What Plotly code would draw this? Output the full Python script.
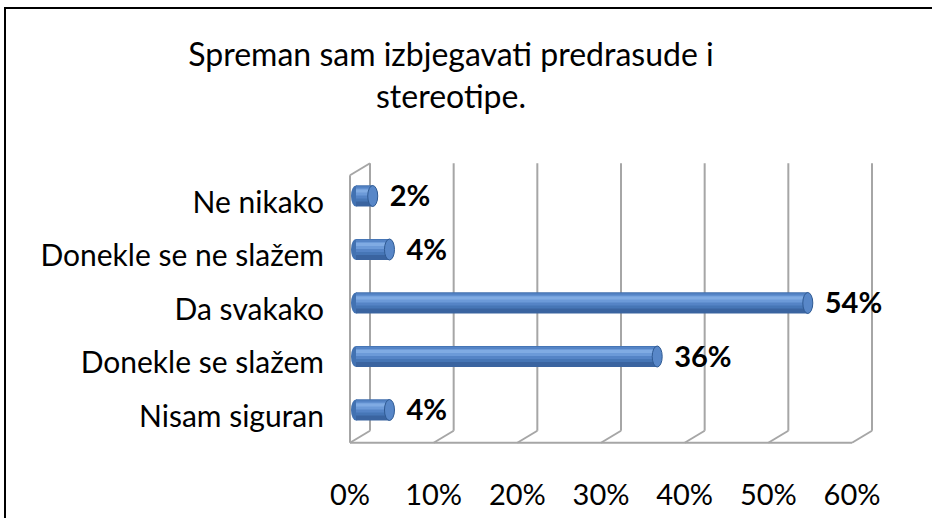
import plotly.graph_objects as go

# ---------------- data ----------------
categories = ["Ne nikako", "Donekle se ne slažem", "Da svakako", "Donekle se slažem", "Nisam siguran"]
values = [2, 4, 54, 36, 4]
x_ticks = [0, 10, 20, 30, 40, 50, 60]
x_tick_labels = ["0%", "10%", "20%", "30%", "40%", "50%", "60%"]
title_text = "Spreman sam izbjegavati predrasude i<br>stereotipe."

# ---------------- layout constants (pixels) ----------------
W, H = 932, 518
PX = (852 - 350) / 60.0      # pixels per percent
PY = 53.5                    # pixels per category
FRONT_X0, FRONT_Y0 = 350, 202   # front plane: 0% and first category
BAR_X0, BAR_Y0 = 356, 196       # bars (mid depth)
DEPTH_DX, DEPTH_DY = 20, -12    # back plane offset
BAR_PX = 21                     # bar thickness px
LABEL_GAP_PX = 12
LABEL_DY_PX = 3
FONT = "Lato"
GRID = "#A6A6A6"

n = len(categories)
idx = list(range(n))

fig = go.Figure()

# ---- cylinder bars built from overlaid layers (gradient) ----
bw = BAR_PX / PY
layers = [  # (offset from top px, thickness px, color)
    (0, 21, "#3A64A0"),
    (0, 16, "#4676B6"),
    (1, 12, "#5584C6"),
    (3, 7, "#6C9AD8"),
    (4, 3, "#80ABE3"),
]
for off, th, col in layers:
    fig.add_trace(go.Bar(
        x=values, y=idx, orientation="h",
        width=th / PY, offset=-bw / 2 + off / PY,
        marker=dict(color=col, line=dict(width=0)),
        hoverinfo="skip", showlegend=False, xaxis="x", yaxis="y"))

# value labels
cap = 5 / PX
fig.add_trace(go.Scatter(
    x=[v + cap + LABEL_GAP_PX / PX for v in values],
    y=[i + LABEL_DY_PX / PY for i in idx], mode="text",
    text=[f"{v}%" for v in values], textposition="middle right",
    textfont=dict(family=FONT, size=29, color="#000000", weight="bold"),
    hoverinfo="skip", showlegend=False, cliponaxis=False, xaxis="x", yaxis="y"))

# helper (invisible) trace for the front-plane label axes
fig.add_trace(go.Scatter(x=[x_ticks[0]], y=[idx[0]], mode="markers",
                         marker=dict(opacity=0), hoverinfo="skip",
                         showlegend=False, xaxis="x2", yaxis="y2"))

shapes = []
# end caps of the cylinders
for i, v in zip(idx, values):
    shapes.append(dict(type="circle", xref="x", yref="y",
                       x0=v - cap, x1=v + cap, y0=i - bw / 2, y1=i + bw / 2,
                       fillcolor="#5887C8", line=dict(color="#2F5A93", width=1),
                       layer="above"))
    shapes.append(dict(type="circle", xref="x", yref="y",
                       x0=-cap, x1=cap, y0=i - bw / 2, y1=i + bw / 2,
                       fillcolor="#4272B2", line=dict(width=0), layer="below"))

# 3-D walls / gridlines on the front-plane axes
ddx = DEPTH_DX / PX
ddy = DEPTH_DY / PY
top, bottom = -0.5, n - 0.5
gl = dict(color=GRID, width=2)
for t in x_ticks:
    shapes.append(dict(type="line", xref="x2", yref="y2", x0=t + ddx, x1=t + ddx,
                       y0=top + ddy, y1=bottom + ddy, line=gl, layer="below"))
    shapes.append(dict(type="line", xref="x2", yref="y2", x0=t, x1=t + ddx,
                       y0=bottom, y1=bottom + ddy, line=gl, layer="below"))
shapes.append(dict(type="line", xref="x2", yref="y2", x0=x_ticks[0], x1=x_ticks[-1],
                   y0=bottom, y1=bottom, line=gl, layer="below"))
shapes.append(dict(type="line", xref="x2", yref="y2", x0=0, x1=0,
                   y0=top, y1=bottom, line=gl, layer="below"))
shapes.append(dict(type="line", xref="x2", yref="y2", x0=0, x1=ddx,
                   y0=top, y1=top + ddy, line=gl, layer="below"))

# outer chart border
shapes.append(dict(type="rect", xref="paper", yref="paper",
                   x0=5 / W, x1=1.02, y0=-0.02, y1=1 - 8 / H,
                   line=dict(color="#000000", width=2), fillcolor="rgba(0,0,0,0)"))

fig.update_layout(
    width=W, height=H,
    margin=dict(l=0, r=0, t=0, b=0),
    paper_bgcolor="white", plot_bgcolor="rgba(0,0,0,0)",
    barmode="overlay",
    showlegend=False,
    hovermode=False,
    font=dict(family=FONT, color="#000000"),
    title=dict(text=title_text, x=451 / W, xanchor="center",
               y=1 - 66 / H, yanchor="top",
               font=dict(family=FONT, size=32, color="#000000")),
    xaxis=dict(domain=[0, 1], range=[-BAR_X0 / PX, (W - BAR_X0) / PX],
               visible=False, fixedrange=True),
    yaxis=dict(domain=[0, 1], range=[(H - BAR_Y0) / PY, -BAR_Y0 / PY],
               visible=False, fixedrange=True),
    xaxis2=dict(overlaying="x", anchor="free", position=(H - 442) / H,
                range=[-FRONT_X0 / PX, (W - FRONT_X0) / PX],
                tickvals=x_ticks, ticktext=x_tick_labels,
                showgrid=False, zeroline=False, showline=False, ticks="",
                ticklabelstandoff=33, fixedrange=True,
                tickfont=dict(family=FONT, size=29, color="#000000")),
    yaxis2=dict(overlaying="y", anchor="free", position=FRONT_X0 / W,
                range=[(H - FRONT_Y0) / PY, -FRONT_Y0 / PY],
                tickvals=idx, ticktext=categories,
                showgrid=False, zeroline=False, showline=False, ticks="",
                ticklabelstandoff=26, fixedrange=True,
                tickfont=dict(family=FONT, size=30, color="#000000")),
    shapes=shapes,
)

fig.write_html("out.html", config={"displayModeBar": False},
               post_script="document.body.style.margin='0';")
